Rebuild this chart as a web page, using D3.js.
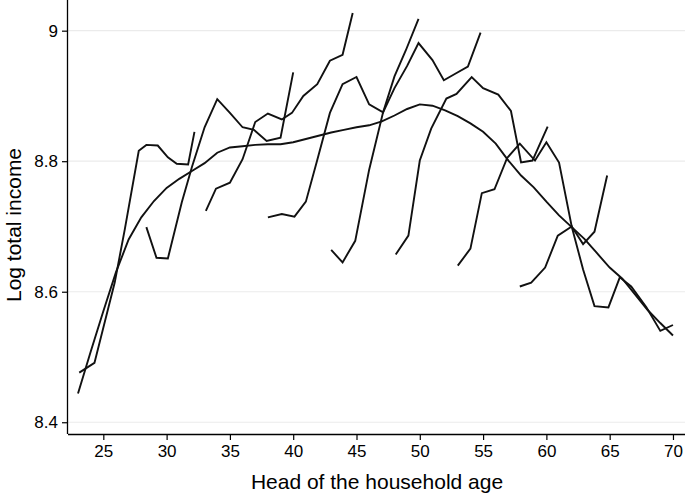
<!DOCTYPE html>
<html>
<head>
<meta charset="utf-8">
<script src="https://cdn.jsdelivr.net/npm/d3@7"></script>
<style>
  html, body { margin: 0; padding: 0; background: #fff; }
  svg { display: block; }
  text { font-family: "Liberation Sans", Arial, Helvetica, sans-serif; fill: #000; }
</style>
</head>
<body>
<svg id="chart" width="685" height="495"></svg>
<script>
// ---- Data ----
const xTicks = [25, 30, 35, 40, 45, 50, 55, 60, 65, 70];
const yTicks = [8.4, 8.6, 8.8, 9];
const yTickLabels = ["8.4", "8.6", "8.8", "9"];

const smoothAges = [23,24,25,26,27,28,29,30,31,32,33,34,35,36,37,38,39,40,41,42,43,44,45,46,47,48,49,50,51,52,53,54,55,56,57,58,59,60,61,62,63,64,65,66,67,68,69,70];
const smoothVals = [8.444,8.508,8.570,8.630,8.680,8.714,8.739,8.759,8.773,8.785,8.797,8.813,8.821,8.823,8.825,8.826,8.826,8.829,8.834,8.839,8.844,8.848,8.852,8.855,8.861,8.870,8.880,8.887,8.885,8.878,8.869,8.858,8.845,8.827,8.801,8.778,8.760,8.738,8.717,8.699,8.681,8.659,8.637,8.620,8.596,8.572,8.552,8.533];

const c1Ages = [23.1, 24.3, 25.9, 26.7, 27.8, 28.4, 29.3, 30.1, 30.8, 31.7, 32.2];
const c1Vals = [8.476, 8.491, 8.614, 8.696, 8.816, 8.825, 8.824, 8.806, 8.796, 8.795, 8.845];

const c2Ages = [28.4, 29.2, 30.1, 31.2, 32.0, 33.0, 34.0, 35.0, 36.0, 36.9, 37.9, 39.0, 40.0];
const c2Vals = [8.699, 8.652, 8.651, 8.737, 8.791, 8.852, 8.895, 8.874, 8.852, 8.848, 8.831, 8.836, 8.936];

const c3Ages = [33.1, 33.9, 35.0, 36.0, 37.0, 38.0, 39.1, 39.9, 40.8, 41.9, 42.9, 43.9, 44.7];
const c3Vals = [8.724, 8.758, 8.767, 8.803, 8.860, 8.873, 8.864, 8.874, 8.900, 8.918, 8.954, 8.963, 9.027];

const c4Ages = [38.0, 39.1, 40.1, 41.0, 41.9, 42.9, 43.9, 45.0, 46.0, 47.1, 48.0, 48.9, 49.9];
const c4Vals = [8.714, 8.719, 8.715, 8.738, 8.802, 8.874, 8.918, 8.929, 8.887, 8.875, 8.930, 8.970, 9.018];

const c5Ages = [43.0, 43.9, 44.9, 46.0, 47.1, 48.0, 49.0, 49.9, 51.0, 51.9, 52.8, 53.8, 54.8];
const c5Vals = [8.664, 8.645, 8.678, 8.787, 8.875, 8.912, 8.946, 8.981, 8.955, 8.924, 8.934, 8.945, 8.997];

const c6Ages = [48.1, 49.1, 50.0, 50.9, 52.1, 52.9, 54.1, 55.0, 56.2, 57.2, 58.0, 58.9, 60.1];
const c6Vals = [8.657, 8.686, 8.801, 8.850, 8.896, 8.903, 8.929, 8.912, 8.902, 8.877, 8.798, 8.801, 8.853];

const c7Ages = [53.0, 54.0, 54.9, 55.9, 56.9, 57.9, 59.1, 60.0, 61.0, 62.0, 62.9, 63.8, 64.8];
const c7Vals = [8.640, 8.666, 8.751, 8.757, 8.805, 8.827, 8.801, 8.829, 8.798, 8.700, 8.673, 8.692, 8.778];

const c8Ages = [57.9, 58.8, 59.9, 60.9, 62.0, 62.9, 63.8, 64.9, 65.8, 66.7, 67.9, 69.0, 70.0];
const c8Vals = [8.608, 8.614, 8.637, 8.686, 8.700, 8.634, 8.578, 8.576, 8.622, 8.608, 8.576, 8.540, 8.549];

const seriesList = [
  [smoothAges, smoothVals],
  [c1Ages, c1Vals], [c2Ages, c2Vals], [c3Ages, c3Vals], [c4Ages, c4Vals],
  [c5Ages, c5Vals], [c6Ages, c6Vals], [c7Ages, c7Vals], [c8Ages, c8Vals]
];

// ---- Layout ----
const svg = d3.select("#chart");
const plotLeft = 68, plotRight = 685, plotTop = 0, plotBottom = 434;

const x = d3.scaleLinear().domain([22.21, 70.95]).range([plotLeft, plotRight]);
const y = d3.scaleLinear().domain([8.382, 9.047]).range([plotBottom, plotTop]);

// gridlines
svg.append("g")
  .selectAll("line")
  .data(yTicks)
  .join("line")
  .attr("x1", plotLeft).attr("x2", plotRight)
  .attr("y1", d => y(d)).attr("y2", d => y(d))
  .attr("stroke", "#ebebeb").attr("stroke-width", 1.2);

// lines
const lineGen = d3.line().x(d => x(d[0])).y(d => y(d[1]));
svg.append("g")
  .selectAll("path")
  .data(seriesList.map(([a, v]) => a.map((ag, i) => [ag, v[i]])))
  .join("path")
  .attr("d", lineGen)
  .attr("fill", "none")
  .attr("stroke", "#111")
  .attr("stroke-width", 1.9)
  .attr("stroke-linejoin", "miter");

// axes
const xAxis = d3.axisBottom(x).tickValues(xTicks).tickSize(6).tickPadding(5).tickFormat(d3.format("d"));
const gx = svg.append("g").attr("transform", `translate(0,${plotBottom})`).call(xAxis);
gx.select(".domain").attr("d", `M${plotLeft},0.5H${plotRight}`).attr("stroke", "#000").attr("stroke-width", 1.3);
gx.selectAll(".tick line").attr("stroke", "#000").attr("stroke-width", 1.2);
gx.selectAll(".tick text").attr("font-size", 17).attr("font-family", "Liberation Sans, Arial, sans-serif").attr("fill", "#000");

const yAxis = d3.axisLeft(y).tickValues(yTicks).tickSize(6).tickPadding(4).tickFormat((d, i) => yTickLabels[i]);
const gy = svg.append("g").attr("transform", `translate(${plotLeft},0)`).call(yAxis);
gy.select(".domain").attr("d", `M-0.5,${plotTop}V${plotBottom}`).attr("stroke", "#000").attr("stroke-width", 1.3);
gy.selectAll(".tick line").attr("stroke", "#000").attr("stroke-width", 1.2);
gy.selectAll(".tick text").attr("font-size", 17).attr("font-family", "Liberation Sans, Arial, sans-serif").attr("fill", "#000");

// titles
svg.append("text")
  .attr("x", 377)
  .attr("y", 489)
  .attr("text-anchor", "middle")
  .attr("font-size", 21)
  .text("Head of the household age");

svg.append("text")
  .attr("transform", `translate(21,225) rotate(-90)`)
  .attr("text-anchor", "middle")
  .attr("font-size", 21)
  .text("Log total income");
</script>
</body>
</html>
